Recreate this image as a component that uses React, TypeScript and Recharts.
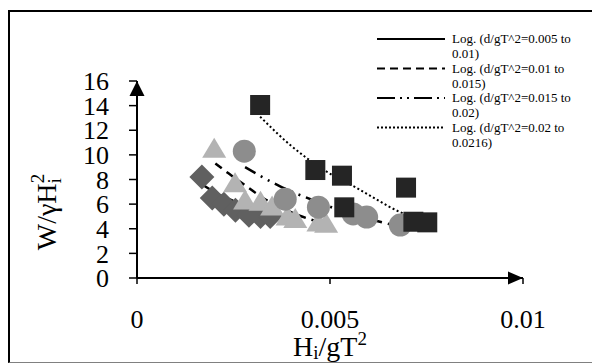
import React from 'react';
import {
  ComposedChart,
  Scatter,
  Line,
  XAxis,
  YAxis,
  Legend,
  ReferenceDot,
} from 'recharts';

const diamondX = [0.00168, 0.00195, 0.00225, 0.00255, 0.0029, 0.0032, 0.00345];
const diamondY = [8.2, 6.5, 6.0, 5.5, 5.1, 5.0, 5.0];

const triangleX = [0.002, 0.00254, 0.0028, 0.0032, 0.0035, 0.0039, 0.0041, 0.0047, 0.0049];
const triangleY = [10.5, 7.7, 6.3, 6.2, 5.8, 5.0, 4.8, 4.5, 4.4];

const circleX = [0.00278, 0.00384, 0.0047, 0.0056, 0.00595, 0.00682];
const circleY = [10.3, 6.4, 5.75, 5.2, 4.95, 4.3];

const squareX = [0.00319, 0.00462, 0.00531, 0.00537, 0.00697, 0.00716, 0.00752];
const squareY = [14.05, 8.77, 8.31, 5.74, 7.34, 4.57, 4.52];

// Log trendlines
const trend1X = [0.00164, 0.00211, 0.0025, 0.00298, 0.00355, 0.00418];
const trend1Y = [7.7, 6.8, 6.25, 5.6, 5.05, 4.55];

const trend2X = [0.00203, 0.00237, 0.0027, 0.00332, 0.0041, 0.005];
const trend2Y = [9.3, 8.5, 7.75, 6.4, 5.2, 4.3];

const trend3X = [0.0028, 0.00367, 0.00474, 0.00526, 0.00595, 0.007];
const trend3Y = [9.0, 7.5, 6.1, 5.5, 4.85, 4.05];

const trend4X = [0.00319, 0.00397, 0.00483, 0.0057, 0.00682, 0.00746];
const trend4Y = [13.1, 10.8, 8.8, 7.3, 5.35, 4.6];

const legendLabels = [
  ['Log. (d/gT^2=0.005 to', '0.01)'],
  ['Log. (d/gT^2=0.01 to', '0.015)'],
  ['Log. (d/gT^2=0.015 to', '0.02)'],
  ['Log. (d/gT^2=0.02 to', '0.0216)'],
];
const legendDash = ['', '8 5', '18 5 2 5 2 5', '2 2'];

const xTicks = [0, 0.005, 0.01];
const yTicks = [0, 2, 4, 6, 8, 10, 12, 14, 16];

const zip = (xs: number[], ys: number[]) => xs.map((x, i) => ({ x, y: ys[i] }));

const FONT = 'Liberation Serif, Tinos, DejaVu Serif, serif';

const Diamond = (p: any) => {
  const { cx, cy } = p;
  const r = 12.5;
  return (
    <polygon
      points={`${cx},${cy - r} ${cx + r},${cy} ${cx},${cy + r} ${cx - r},${cy}`}
      fill="#606060"
    />
  );
};
const Triangle = (p: any) => {
  const { cx, cy } = p;
  return (
    <polygon
      points={`${cx},${cy - 11} ${cx + 12},${cy + 9} ${cx - 12},${cy + 9}`}
      fill="#b3b3b3"
    />
  );
};
const Circle = (p: any) => <circle cx={p.cx} cy={p.cy} r={11.5} fill="#8d8d8d" />;
const Square = (p: any) => (
  <rect x={p.cx - 10} y={p.cy - 10} width={20} height={20} fill="#252525" />
);

const renderLegend = () => (
  <svg width={215} height={140} style={{ fontFamily: FONT }}>
    {legendLabels.map((lines, i) => {
      const y = 19 + i * 29.5;
      return (
        <g key={i}>
          <line x1={7} x2={75} y1={y} y2={y} stroke="#000" strokeWidth={2} strokeDasharray={legendDash[i]} />
          <text x={82} y={y + 4} style={{ fontFamily: FONT }} fontSize={13} fill="#000">
            {lines[0]}
          </text>
          <text x={82} y={y + 19} style={{ fontFamily: FONT }} fontSize={13} fill="#000">
            {lines[1]}
          </text>
        </g>
      );
    })}
  </svg>
);

const XLabel = (props: any) => {
  const { viewBox } = props;
  const cx = viewBox.x + viewBox.width / 2;
  return (
    <text x={cx} y={356} textAnchor="middle" style={{ fontFamily: FONT }} fontSize={28} fill="#000">
      H
      <tspan dy={3} fontSize={19}>i</tspan>
      <tspan dy={-3}>/gT</tspan>
      <tspan dy={-11} fontSize={19}>2</tspan>
    </text>
  );
};

const YLabel = () => (
  <text
    x={56}
    y={212}
    transform="rotate(-90, 56, 212)"
    textAnchor="middle"
    style={{ fontFamily: FONT }}
    fontSize={28}
    fill="#000"
  >
    W/γH
    <tspan dy={5} fontSize={19}>i</tspan>
    <tspan dx={-5} dy={-17} fontSize={19}>2</tspan>
  </text>
);

const ArrowUp = (p: any) => (
  <polygon points={`${p.cx},${p.cy} ${p.cx + 7.5},${p.cy + 15} ${p.cx - 7.5},${p.cy + 15}`} fill="#000" />
);
const ArrowRight = (p: any) => (
  <polygon points={`${p.cx},${p.cy} ${p.cx - 15},${p.cy - 6.5} ${p.cx - 15},${p.cy + 6.5}`} fill="#000" />
);

export default function App() {
  return (
    <div style={{ position: 'absolute', left: 0, top: 0, width: 592, height: 363, background: '#fff', fontFamily: FONT }}>
      <div
        style={{
          position: 'absolute',
          left: 8,
          top: 10,
          width: 584,
          height: 353,
          borderTop: '2px solid #000',
          borderLeft: '2px solid #000',
          borderBottom: '1px solid #808080',
          boxSizing: 'border-box',
        }}
      />
      <div style={{ position: 'absolute', left: 0, top: 0 }}>
        <ComposedChart width={592} height={363} margin={{ top: 81, right: 69, bottom: 0, left: 0 }} style={{ fontFamily: FONT }}>
          <XAxis
            type="number"
            dataKey="x"
            domain={[0, 0.01]}
            ticks={xTicks}
            interval={0}
            allowDataOverflow
            height={85}
            stroke="#000"
            axisLine={{ stroke: '#000', strokeWidth: 2 }}
            tickLine={{ stroke: '#000', strokeWidth: 1.5 }}
            tickSize={6}
            tickMargin={26}
            tick={{ fontFamily: FONT, fontSize: 26, fill: '#000' }}
            label={<XLabel />}
          />
          <YAxis
            type="number"
            dataKey="y"
            domain={[0, 16]}
            ticks={yTicks}
            interval={0}
            width={137}
            stroke="#000"
            axisLine={{ stroke: '#000', strokeWidth: 2 }}
            tickLine={{ stroke: '#000', strokeWidth: 1.5 }}
            tickSize={8}
            tickMargin={20}
            tick={{ fontFamily: FONT, fontSize: 26, fill: '#000' }}
            label={<YLabel />}
          />
          <Legend
            layout="vertical"
            align="center"
            verticalAlign="middle"
            content={renderLegend}
            wrapperStyle={{ left: 370, top: 20, width: 215, height: 140 }}
          />
          <Scatter data={zip(diamondX, diamondY)} dataKey="y" shape={Diamond} isAnimationActive={false} legendType="none" />
          <Scatter data={zip(triangleX, triangleY)} dataKey="y" shape={Triangle} isAnimationActive={false} legendType="none" />
          <Scatter data={zip(circleX, circleY)} dataKey="y" shape={Circle} isAnimationActive={false} legendType="none" />
          <Scatter data={zip(squareX, squareY)} dataKey="y" shape={Square} isAnimationActive={false} legendType="none" />
          <Line data={zip(trend1X, trend1Y)} dataKey="y" type="monotone" stroke="#000" strokeWidth={2.5} dot={false} isAnimationActive={false} />
          <Line data={zip(trend2X, trend2Y)} dataKey="y" type="monotone" stroke="#000" strokeWidth={2.5} strokeDasharray="8 6" dot={false} isAnimationActive={false} />
          <Line data={zip(trend3X, trend3Y)} dataKey="y" type="monotone" stroke="#000" strokeWidth={2.5} strokeDasharray="12 6 2 6 2 6" dot={false} isAnimationActive={false} />
          <Line data={zip(trend4X, trend4Y)} dataKey="y" type="monotone" stroke="#000" strokeWidth={2} strokeDasharray="2 2.5" dot={false} isAnimationActive={false} />
          <ReferenceDot x={0} y={16} r={0} shape={ArrowUp} ifOverflow="visible" />
          <ReferenceDot x={0.01} y={0} r={0} shape={ArrowRight} ifOverflow="visible" />
        </ComposedChart>
      </div>
    </div>
  );
}
